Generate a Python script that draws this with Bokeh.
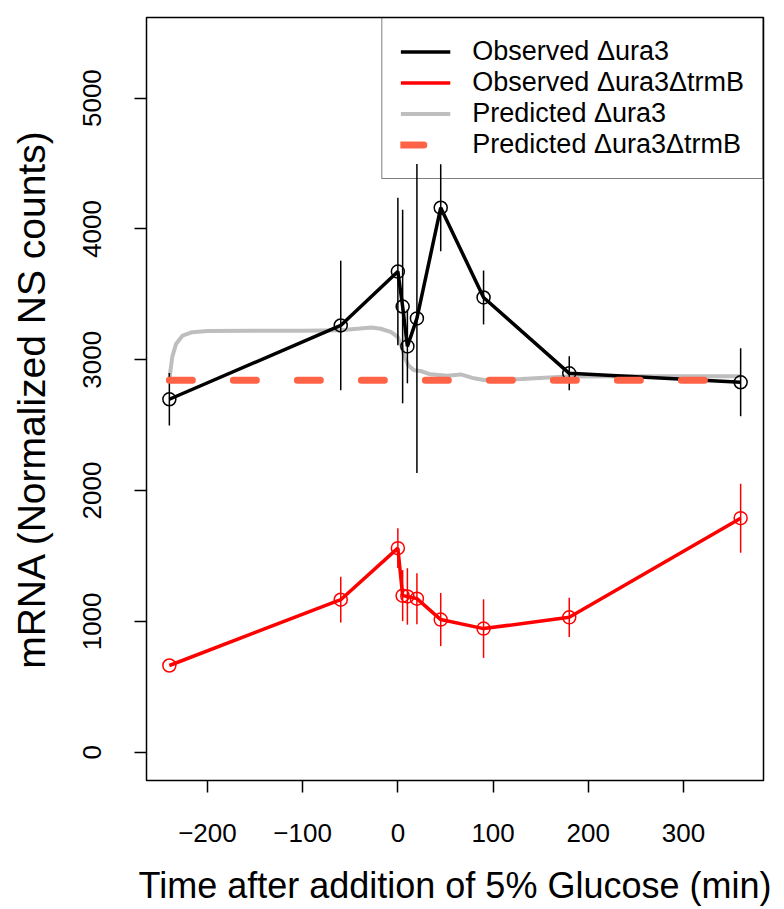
from bokeh.plotting import figure
from bokeh.models import (Range1d, FixedTicker, CustomJSTickFormatter, Legend,
                          LegendItem, ColumnDataSource)
from bokeh.embed import file_html
from bokeh.resources import INLINE

# ---------------- data ----------------
time_obs = [-240, -60, 0, 5, 10, 20, 45, 90, 180, 360]
obs_ura3 = [2698, 3262, 3674, 3407, 3102, 3316, 4162, 3476, 2896, 2828]
obs_ura3_err = [200, 495, 564, 740, 282, 1181, 332, 206, 130, 260]
obs_trmB = [663, 1166, 1560, 1197, 1191, 1174, 1014, 945, 1031, 1789]
obs_trmB_err = [0, 175, 152, 195, 216, 195, 203, 224, 150, 264]

pred_time = [-240, -237, -233, -226, -216, -200, -150, -100, -60, -40, -28, -18,
             -7, 0, 4, 7, 11, 17, 24, 34, 52, 66, 80, 90, 130, 178, 250, 360]
pred_ura3 = [2850, 3020, 3120, 3185, 3211, 3219, 3222, 3222, 3225, 3238, 3247,
             3237, 3211, 3173, 3100, 3021, 2957, 2919, 2914, 2889, 2878, 2888,
             2858, 2845, 2852, 2872, 2873, 2873]
pred_trmB_time = [-240, 360]
pred_trmB = [2843, 2843]

x_ticks = [-200, -100, 0, 100, 200, 300]
y_ticks = [0, 1000, 2000, 3000, 4000, 5000]

FONT = "Liberation Sans"

p = figure(width=784, height=909, output_backend="svg", toolbar_location=None,
           x_range=Range1d(-264, 384), y_range=Range1d(-216, 5616),
           min_border_left=146, min_border_right=21, min_border_top=17,
           min_border_bottom=129)
p.background_fill_color = "white"
p.border_fill_color = "white"
p.outline_line_color = "black"
p.outline_line_width = 1.5
p.xgrid.visible = False
p.ygrid.visible = False

p.xaxis.ticker = FixedTicker(ticks=x_ticks)
p.yaxis.ticker = FixedTicker(ticks=y_ticks)
p.xaxis.formatter = CustomJSTickFormatter(
    code="return tick < 0 ? '\u2212' + Math.abs(tick) : String(tick);")
for ax in (p.xaxis, p.yaxis):
    ax.axis_line_color = None
    ax.major_tick_line_color = "black"
    ax.major_tick_line_width = 1.5
    ax.major_tick_out = 12
    ax.major_tick_in = 0
    ax.minor_tick_line_color = None
    ax.major_label_text_font = FONT
    ax.major_label_text_font_size = "26px"
    ax.major_label_text_color = "black"
    ax.axis_label_text_font = FONT
    ax.axis_label_text_font_style = "normal"
    ax.axis_label_text_color = "black"
p.xaxis.axis_label = "Time after addition of 5% Glucose (min)"
p.yaxis.axis_label = "mRNA (Normalized NS counts)"
p.xaxis.axis_label_text_font_size = "36px"
p.yaxis.axis_label_text_font_size = "39px"
p.yaxis.major_label_orientation = "vertical"
p.xaxis.major_label_standoff = 31
p.yaxis.major_label_standoff = 33
p.xaxis.axis_label_standoff = 20
p.yaxis.axis_label_standoff = 28

# predicted wild type (grey)
g_pred = p.line(pred_time, pred_ura3, line_color="#BEBEBE", line_width=4)

# observed ura3 (black)
src_b = ColumnDataSource(dict(
    t=time_obs, v=obs_ura3,
    lo=[v - e for v, e in zip(obs_ura3, obs_ura3_err)],
    hi=[v + e for v, e in zip(obs_ura3, obs_ura3_err)]))
p.segment(x0="t", y0="lo", x1="t", y1="hi", source=src_b,
          line_color="black", line_width=1.5)
g_black = p.line("t", "v", source=src_b, line_color="black", line_width=3.5)
p.scatter("t", "v", source=src_b, size=13, fill_color=None,
          line_color="black", line_width=1.5)

# observed trmB (red)
src_r = ColumnDataSource(dict(
    t=time_obs, v=obs_trmB,
    lo=[v - e for v, e in zip(obs_trmB, obs_trmB_err)],
    hi=[v + e for v, e in zip(obs_trmB, obs_trmB_err)]))
p.segment(x0="t", y0="lo", x1="t", y1="hi", source=src_r,
          line_color="red", line_width=1.5)
g_red = p.line("t", "v", source=src_r, line_color="red", line_width=3.5)
p.scatter("t", "v", source=src_r, size=13, fill_color=None,
          line_color="red", line_width=1.5)

# predicted trmB (tomato dashed)
g_dash = p.line(pred_trmB_time, pred_trmB, line_color="tomato", line_width=7,
                line_dash="23 41", line_cap="round")

legend = Legend(items=[
    LegendItem(label="Observed \u0394ura3", renderers=[g_black]),
    LegendItem(label="Observed \u0394ura3\u0394trmB", renderers=[g_red]),
    LegendItem(label="Predicted \u0394ura3", renderers=[g_pred]),
    LegendItem(label="Predicted \u0394ura3\u0394trmB", renderers=[g_dash]),
], location="top_right")
legend.margin = 0
legend.padding = 18
legend.spacing = 0
legend.border_line_color = "black"
legend.border_line_width = 1.5
legend.background_fill_alpha = 0
legend.label_text_font = FONT
legend.label_text_font_size = "27px"
legend.label_text_color = "black"
legend.glyph_width = 50
legend.glyph_height = 31
legend.label_height = 31
legend.label_standoff = 22
p.add_layout(legend)

open("out.html", "w").write(file_html(p, INLINE))
